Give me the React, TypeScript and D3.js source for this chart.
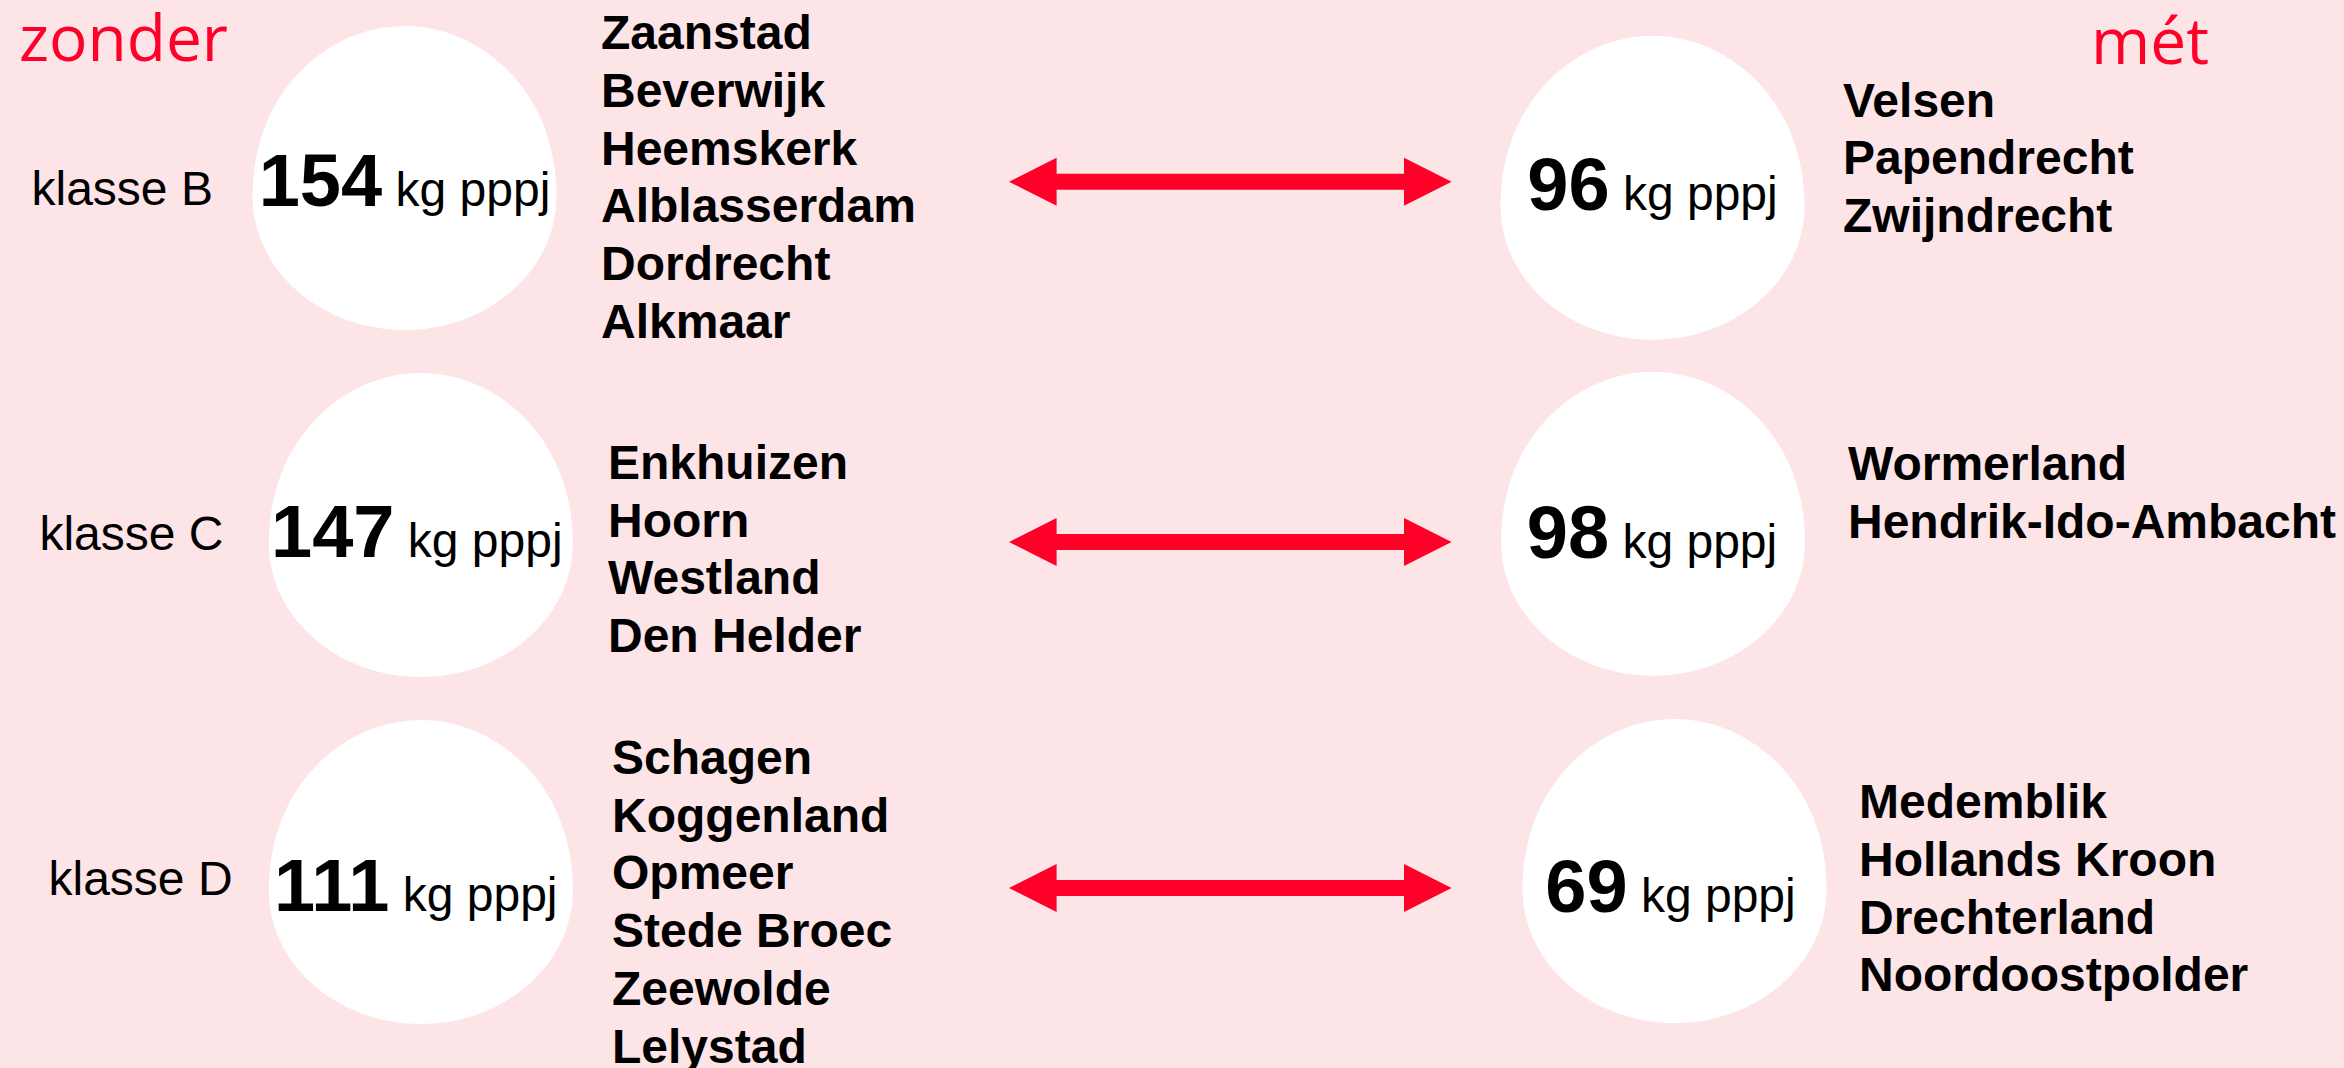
import React from 'react';
import * as d3 from 'd3';

// data
const klassen = ['klasse B', 'klasse C', 'klasse D'];
const zonderValues = [154, 147, 111];
const metValues = [96, 98, 69];
const zonderNames = [
  ['Zaanstad', 'Beverwijk', 'Heemskerk', 'Alblasserdam', 'Dordrecht', 'Alkmaar'],
  ['Enkhuizen', 'Hoorn', 'Westland', 'Den Helder'],
  ['Schagen', 'Koggenland', 'Opmeer', 'Stede Broec', 'Zeewolde', 'Lelystad'],
];
const metNames = [
  ['Velsen', 'Papendrecht', 'Zwijndrecht'],
  ['Wormerland', 'Hendrik-Ido-Ambacht'],
  ['Medemblik', 'Hollands Kroon', 'Drechterland', 'Noordoostpolder'],
];
const unit = 'kg pppj';

const W = 2344;
const H = 1068;
const BG = '#FCE4E7';
const RED = '#FF0028';
const SANS = '"Liberation Sans", Arial, sans-serif';

// per-row layout tweaks (offsets from the row top given by the point scale)
const layout = [
  { lx: 404.5, rx: 1652.5, rTop: 9.7, arrow: 155.7, kx: 31.5, ky: 179, lv: 180, rv: 184, lnx: 601, lny: 23.3, rnx: 1843, rny: 90.7, ldx: 0, rdx: 0 },
  { lx: 420.8, rx: 1653, rTop: -1.3, arrow: 169, kx: 39.4, ky: 177, lv: 184, rv: 185, lnx: 608, lny: 106, rnx: 1848, rny: 107, ldx: -4, rdx: -1 },
  { lx: 420.8, rx: 1674.5, rTop: -1, arrow: 168, kx: 48.5, ky: 175, lv: 191, rv: 191.7, lnx: 612, lny: 54, rnx: 1859, rny: 98.3, ldx: -5, rdx: -4 },
];

const EGG_RX = 152;
const EGG_H = 304;
const LINE_H = 57.7;

// egg: narrower, more pointed top half, rounder bottom half
function eggPath(cx: number, top: number) {
  const wy = top + EGG_H * 0.56;
  const bottom = top + EGG_H;
  const up = wy - top, dn = bottom - wy;
  const k = 0.5523;
  return [
    `M${cx - EGG_RX},${wy}`,
    `C${cx - EGG_RX},${wy - up * 0.62} ${cx - EGG_RX * 0.5},${top} ${cx},${top}`,
    `C${cx + EGG_RX * 0.5},${top} ${cx + EGG_RX},${wy - up * 0.62} ${cx + EGG_RX},${wy}`,
    `C${cx + EGG_RX},${wy + dn * k} ${cx + EGG_RX * k},${bottom} ${cx},${bottom}`,
    `C${cx - EGG_RX * k},${bottom} ${cx - EGG_RX},${wy + dn * k} ${cx - EGG_RX},${wy}Z`,
  ].join('');
}

// double headed arrow
const arrowX = d3.scaleLinear().domain([0, 1]).range([1009, 1451.6]);
function arrowPath(y: number) {
  const x0 = arrowX(0), x1 = arrowX(1);
  const head = 47.6, hh = 24, sh = 8;
  return [
    [x0, y], [x0 + head, y - hh], [x0 + head, y - sh], [x1 - head, y - sh], [x1 - head, y - hh],
    [x1, y], [x1 - head, y + hh], [x1 - head, y + sh], [x0 + head, y + sh], [x0 + head, y + hh],
  ].map((p, i) => (i ? 'L' : 'M') + p[0] + ',' + p[1]).join('') + 'Z';
}

export default function App() {
  const rowY = d3.scalePoint<string>().domain(klassen).range([26, 720]);
  const lineY = d3.scaleLinear().domain([0, 1]).range([0, LINE_H]);

  return (
    <svg width={W} height={H} style={{ position: 'absolute', left: 0, top: 0, display: 'block' }}>
      <rect width={W} height={H} fill={BG} />
      <text x={19} y={61} fill={RED} fontFamily='"Open Sans", sans-serif' fontSize={64}>zonder</text>
      <text x={2091} y={64} fill={RED} fontFamily='"Open Sans", sans-serif' fontSize={64}>mét</text>
      {klassen.map((k, i) => {
        const t = rowY(k)!;
        const L = layout[i];
        return (
          <g key={k}>
            <path d={eggPath(L.lx, t)} fill="#fff" />
            <path d={eggPath(L.rx, t + L.rTop)} fill="#fff" />
            <path d={arrowPath(t + L.arrow)} fill={RED} />
            <text x={L.kx} y={t + L.ky} fontFamily={SANS} fontSize={48} fill="#000">{k}</text>
            <text x={L.lx + L.ldx} y={t + L.lv} textAnchor="middle" fontFamily={SANS} fill="#000">
              <tspan fontWeight="bold" fontSize={74}>{zonderValues[i]}</tspan>
              <tspan fontSize={48}>{' ' + unit}</tspan>
            </text>
            <text x={L.rx + L.rdx} y={t + L.rv} textAnchor="middle" fontFamily={SANS} fill="#000">
              <tspan fontWeight="bold" fontSize={74}>{metValues[i]}</tspan>
              <tspan fontSize={48}>{' ' + unit}</tspan>
            </text>
            {zonderNames[i].map((n, j) => (
              <text key={n} x={L.lnx} y={t + L.lny + lineY(j)} fontFamily={SANS} fontWeight="bold" fontSize={48} fill="#000">{n}</text>
            ))}
            {metNames[i].map((n, j) => (
              <text key={n} x={L.rnx} y={t + L.rny + lineY(j)} fontFamily={SANS} fontWeight="bold" fontSize={48} fill="#000">{n}</text>
            ))}
          </g>
        );
      })}
    </svg>
  );
}
